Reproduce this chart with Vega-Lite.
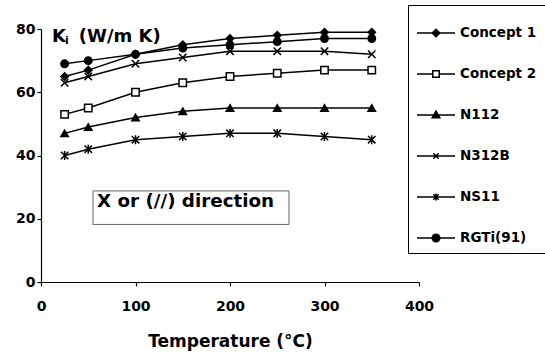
{
  "$schema": "https://vega.github.io/schema/vega-lite/v6.json",
  "width": 378,
  "height": 253,
  "autosize": "none",
  "padding": {"left": 41, "top": 29, "right": 126, "bottom": 72},
  "background": "white",
  "config": {
    "view": {"stroke": null},
    "font": "DejaVu Sans",
    "axis": {
      "grid": false,
      "domainColor": "black",
      "domainWidth": 1.2,
      "tickColor": "black",
      "tickWidth": 1.2,
      "tickSize": 4,
      "labelFont": "DejaVu Sans",
      "labelFontWeight": "bold",
      "labelFontSize": 14,
      "labelColor": "black",
      "titleFont": "DejaVu Sans",
      "titleFontWeight": "bold",
      "titleColor": "black"
    }
  },
  "layer": [
    {
      "data": {"values": [{}]},
      "mark": {"type": "rect", "fill": "white", "stroke": "#666666", "strokeWidth": 1},
      "encoding": {
        "x": {"datum": 55, "type": "quantitative"},
        "x2": {"datum": 262.4},
        "y": {"datum": 28.8, "type": "quantitative"},
        "y2": {"datum": 18.2}
      }
    },
    {
      "data": {"values": [{}]},
      "mark": {"type": "text", "text": "X or (//) direction", "align": "left", "baseline": "alphabetic", "font": "DejaVu Sans", "fontWeight": "bold", "fontSize": 18.3, "color": "black"},
      "encoding": {
        "x": {"datum": 59.3, "type": "quantitative"},
        "y": {"datum": 23.8, "type": "quantitative"}
      }
    },
    {
      "data": {"values": [{}]},
      "mark": {"type": "text", "text": "K", "align": "left", "baseline": "alphabetic", "font": "DejaVu Sans", "fontWeight": "bold", "fontSize": 18, "color": "black"},
      "encoding": {
        "x": {"datum": 11.6, "type": "quantitative"},
        "y": {"datum": 76.0, "type": "quantitative"}
      }
    },
    {
      "data": {"values": [{}]},
      "mark": {"type": "text", "text": "i", "align": "left", "baseline": "alphabetic", "font": "DejaVu Sans", "fontWeight": "bold", "fontSize": 11, "color": "black"},
      "encoding": {
        "x": {"datum": 25.5, "type": "quantitative"},
        "y": {"datum": 75.1, "type": "quantitative"}
      }
    },
    {
      "data": {"values": [{}]},
      "mark": {"type": "text", "text": "(W/m K)", "align": "left", "baseline": "alphabetic", "font": "DejaVu Sans", "fontWeight": "bold", "fontSize": 18, "color": "black"},
      "encoding": {
        "x": {"datum": 40.0, "type": "quantitative"},
        "y": {"datum": 76.0, "type": "quantitative"}
      }
    },
    {
      "data": {"name": "main"},
      "mark": {"type": "line", "color": "black", "strokeWidth": 1.5},
      "encoding": {
        "x": {"field": "t", "type": "quantitative"},
        "y": {"field": "k", "type": "quantitative"},
        "detail": {"field": "s", "type": "nominal"}
      }
    },
    {
      "data": {"name": "main"},
      "mark": {"type": "point", "stroke": "black", "strokeWidth": 1.5, "size": 55, "opacity": 1},
      "encoding": {
        "x": {
          "field": "t", "type": "quantitative",
          "scale": {"domain": [0, 400], "nice": false},
          "axis": {"values": [0, 100, 200, 300, 400], "title": "Temperature (°C)", "titleFontSize": 17, "labelPadding": 13, "titlePadding": 20, "labelFlush": false}
        },
        "y": {
          "field": "k", "type": "quantitative",
          "scale": {"domain": [0, 80], "nice": false},
          "axis": {"values": [0, 20, 40, 60, 80], "title": null, "labelPadding": 2}
        },
        "shape": {
          "condition": [
            {"test": "datum.s === 'Concept 1'", "value": "diamond"},
            {"test": "datum.s === 'Concept 2'", "value": "square"},
            {"test": "datum.s === 'N112'", "value": "triangle-up"},
            {"test": "datum.s === 'N312B'", "value": "M-1,-1L1,1M-1,1L1,-1"},
            {"test": "datum.s === 'NS11'", "value": "M-1,-1L1,1M-1,1L1,-1M0,-1.2L0,1.2"}
          ],
          "value": "circle"
        },
        "fill": {
          "condition": [
            {"test": "datum.s === 'Concept 2'", "value": "white"},
            {"test": "datum.s === 'N312B' || datum.s === 'NS11'", "value": "transparent"}
          ],
          "value": "black"
        }
      }
    },
    {
      "data": {"name": "main"},
      "mark": {"type": "point", "strokeWidth": 1.5, "opacity": 0, "filled": false},
      "encoding": {
        "x": {"field": "t", "type": "quantitative"},
        "y": {"field": "k", "type": "quantitative"},
        "shape": {
          "field": "s", "type": "nominal",
          "scale": {
            "domain": ["Concept 1", "Concept 2", "N112", "N312B", "NS11", "RGTi(91)"],
            "range": [
              "M-1,0H1M0,-0.2L0.2,0L0,0.2L-0.2,0Z",
              "M-1,0H-0.17M0.17,0H1M-0.17,-0.17H0.17V0.17H-0.17Z",
              "M-1,0H1M0,-0.2L0.2,0.14L-0.2,0.14Z",
              "M-1,0H1M-0.14,-0.14L0.14,0.14M-0.14,0.14L0.14,-0.14",
              "M-1,0H1M-0.14,-0.14L0.14,0.14M-0.14,0.14L0.14,-0.14M0,-0.18V0.18",
              "M-1,0H1M0.2,0A0.2,0.2 0 1,1 -0.2,0A0.2,0.2 0 1,1 0.2,0Z"
            ]
          },
          "legend": {
            "orient": "none",
            "legendX": 367,
            "legendY": -24,
            "title": null,
            "strokeColor": "black",
            "fillColor": "white",
            "padding": 8,
            "symbolSize": 1444,
            "symbolOpacity": 1,
            "rowPadding": 14,
            "labelOffset": 4,
            "labelFont": "DejaVu Sans",
            "labelFontWeight": "bold",
            "labelFontSize": 13.5,
            "labelColor": "black",
            "symbolStrokeWidth": 1.5
          }
        },
        "fill": {
          "field": "s", "type": "nominal",
          "scale": {
            "domain": ["Concept 1", "Concept 2", "N112", "N312B", "NS11", "RGTi(91)"],
            "range": ["black", "white", "black", "transparent", "transparent", "black"]
          },
          "legend": null
        },
        "stroke": {
          "field": "s", "type": "nominal",
          "scale": {
            "domain": ["Concept 1", "Concept 2", "N112", "N312B", "NS11", "RGTi(91)"],
            "range": ["black", "black", "black", "black", "black", "black"]
          },
          "legend": null
        }
      }
    }
  ],
  "datasets": {
    "main": [
      {"s": "Concept 1", "t": 25, "k": 65}, {"s": "Concept 1", "t": 50, "k": 67}, {"s": "Concept 1", "t": 100, "k": 72}, {"s": "Concept 1", "t": 150, "k": 75},
      {"s": "Concept 1", "t": 200, "k": 77}, {"s": "Concept 1", "t": 250, "k": 78}, {"s": "Concept 1", "t": 300, "k": 79}, {"s": "Concept 1", "t": 350, "k": 79},
      {"s": "Concept 2", "t": 25, "k": 53}, {"s": "Concept 2", "t": 50, "k": 55}, {"s": "Concept 2", "t": 100, "k": 60}, {"s": "Concept 2", "t": 150, "k": 63},
      {"s": "Concept 2", "t": 200, "k": 65}, {"s": "Concept 2", "t": 250, "k": 66}, {"s": "Concept 2", "t": 300, "k": 67}, {"s": "Concept 2", "t": 350, "k": 67},
      {"s": "N112", "t": 25, "k": 47}, {"s": "N112", "t": 50, "k": 49}, {"s": "N112", "t": 100, "k": 52}, {"s": "N112", "t": 150, "k": 54},
      {"s": "N112", "t": 200, "k": 55}, {"s": "N112", "t": 250, "k": 55}, {"s": "N112", "t": 300, "k": 55}, {"s": "N112", "t": 350, "k": 55},
      {"s": "N312B", "t": 25, "k": 63}, {"s": "N312B", "t": 50, "k": 65}, {"s": "N312B", "t": 100, "k": 69}, {"s": "N312B", "t": 150, "k": 71},
      {"s": "N312B", "t": 200, "k": 73}, {"s": "N312B", "t": 250, "k": 73}, {"s": "N312B", "t": 300, "k": 73}, {"s": "N312B", "t": 350, "k": 72},
      {"s": "NS11", "t": 25, "k": 40}, {"s": "NS11", "t": 50, "k": 42}, {"s": "NS11", "t": 100, "k": 45}, {"s": "NS11", "t": 150, "k": 46},
      {"s": "NS11", "t": 200, "k": 47}, {"s": "NS11", "t": 250, "k": 47}, {"s": "NS11", "t": 300, "k": 46}, {"s": "NS11", "t": 350, "k": 45},
      {"s": "RGTi(91)", "t": 25, "k": 69}, {"s": "RGTi(91)", "t": 50, "k": 70}, {"s": "RGTi(91)", "t": 100, "k": 72}, {"s": "RGTi(91)", "t": 150, "k": 74},
      {"s": "RGTi(91)", "t": 200, "k": 75}, {"s": "RGTi(91)", "t": 250, "k": 76}, {"s": "RGTi(91)", "t": 300, "k": 77}, {"s": "RGTi(91)", "t": 350, "k": 77}
    ]
  }
}
